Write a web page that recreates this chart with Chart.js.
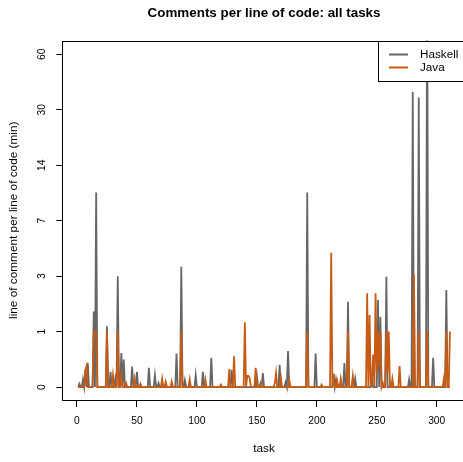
<!DOCTYPE html>
<html><head><meta charset="utf-8">
<script src="https://cdn.jsdelivr.net/npm/chart.js@4/dist/chart.umd.min.js"></script>
<style>html,body{margin:0;padding:0;background:#fff;overflow:hidden;}canvas{display:block;}</style>
</head><body>
<canvas id="c" width="475" height="462" style="width:475px;height:462px"></canvas>
<script>
// ---- data ----
const taskCount = 311;
const yTickValues = [0, 1, 3, 7, 14, 30, 60];
const yTickLabels = ['0', '1', '3', '7', '14', '30', '60'];
const xTickValues = [0, 50, 100, 150, 200, 250, 300];
const seriesNames = ['Haskell', 'Java'];
// [task, comments per line]; every other task is 0
const haskellSpikes = [
  [2,0.04],[5,0.1],[7,0.24],[9,0.35],[14,1.57],[16,10],[25,1.14],[28,0.21],[32,0.11],
  [34,3.0],[37,0.53],[39,0.41],[46,0.29],[50,0.21],[60,0.27],[65,0.16],[68,0.05],
  [83,0.52],[87,3.5],[90,0.09],[99,0.16],[105,0.21],[112,0.44],[129,0.24],[150,0.15],
  [155,0.19],[169,0.32],[174,0.06],[176,0.57],[192,10],[199,0.52],[214,0.18],[216,0.1],
  [223,0.35],[226,1.9],[232,0.11],[246,0.1],[251,1.97],[253,1.41],[258,2.97],[277,0.1],
  [280,37.5],[285,35],[292,150],[297,0.44],[308,2.36]
];
const javaSpikes = [
  [7,0.24],[8,0.3],[14,1],[15,1],[16,1],[25,1],[30,0.16],[34,1],[37,0.15],[41,0.05],
  [48,0.11],[53,0.04],[71,0.11],[74,0.07],[79,0.07],[87,1],[94,0.1],[107,0.1],[120,0.03],
  [127,0.25],[131,0.47],[140,1.25],[142,0.15],[143,0.15],[144,0.12],[149,0.27],[153,0.05],
  [165,0.05],[166,0.19],[170,0.13],[177,0.09],[192,1],[204,0.03],[212,4.35],[214,0.18],
  [217,0.08],[220,0.11],[226,1],[230,0.15],[242,2.23],[244,1.46],[246,0.1],[247,0.5],
  [249,2.23],[250,0.2],[251,1],[252,0.3],[253,1],[255,0.05],[258,1],[259,0.2],[260,1],
  [263,0.11],[269,0.3],[281,3.1],[285,1],[292,1],[306,0.11],[308,1],[311,1]
];

// ---- axis transform: tick values are evenly spaced (log-like scale) ----
function toLevel(v) {
  const L = yTickValues.map(t => Math.log2(t + 1));
  const lv = Math.log2(v + 1);
  let k = 0;
  while (k < L.length - 2 && lv > L[k + 1]) k++;
  return k + (lv - L[k]) / (L[k + 1] - L[k]);
}
function buildSeries(spikes) {
  const m = new Map(spikes.map(p => [p[0], p[1]]));
  const out = [];
  for (let i = 1; i <= taskCount; i++) out.push({ x: i, y: toLevel(m.get(i) || 0) });
  return out;
}

const FONT = "'Liberation Sans', Arial, Helvetica, sans-serif";
const GREY = '#666666', ORANGE = '#C75B14';

const decor = {
  id: 'decor',
  afterDraw(chart) {
    const { ctx, chartArea: a, scales: { y } } = chart;
    ctx.save();
    ctx.strokeStyle = '#000'; ctx.lineWidth = 1;
    const L = Math.round(a.left) - 0.5, T = Math.round(a.top) + 0.5;
    const R = Math.round(a.right) + 0.5, B = Math.round(a.bottom) + 0.5;
    ctx.strokeRect(L, T, R - L, B - T);
    ctx.fillStyle = '#000';
    // y tick labels (rotated as in the reference)
    ctx.font = `10.3px ${FONT}`;
    ctx.textAlign = 'center'; ctx.textBaseline = 'middle';
    yTickLabels.forEach((lab, k) => {
      ctx.save(); ctx.translate(42, y.getPixelForValue(k)); ctx.rotate(-Math.PI / 2);
      ctx.fillText(lab, 0, 0); ctx.restore();
    });
    // titles
    const cx = (a.left + a.right) / 2, cy = (a.top + a.bottom) / 2;
    ctx.font = `bold 13.4px ${FONT}`;
    ctx.fillText('Comments per line of code: all tasks', cx, 13);
    ctx.font = `11.8px ${FONT}`;
    ctx.fillText('task', cx, 449);
    ctx.save(); ctx.translate(14, cy); ctx.rotate(-Math.PI / 2);
    ctx.fillText('line of comment per line of code (min)', 0, 0); ctx.restore();
    // legend
    const lx = 378.5, ly = T, lb = 81.5;
    ctx.fillStyle = '#fff'; ctx.fillRect(lx, ly, R - lx, lb - ly);
    ctx.strokeRect(lx, ly, R - lx, lb - ly);
    const rows = [[seriesNames[0], GREY, 54.5], [seriesNames[1], ORANGE, 67.5]];
    ctx.textAlign = 'left';
    rows.forEach(([name, col, ry]) => {
      ctx.strokeStyle = col; ctx.lineWidth = 2;
      ctx.beginPath(); ctx.moveTo(389, ry); ctx.lineTo(408, ry); ctx.stroke();
      ctx.fillStyle = '#000'; ctx.font = `11.7px ${FONT}`;
      ctx.fillText(name, 420, ry);
    });
    ctx.restore();
  }
};

new Chart(document.getElementById('c'), {
  type: 'line',
  data: {
    datasets: [
      { label: seriesNames[1], data: buildSeries(javaSpikes), borderColor: ORANGE, borderWidth: 1.8, pointRadius: 0, tension: 0, fill: false },
      { label: seriesNames[0], data: buildSeries(haskellSpikes), borderColor: GREY, borderWidth: 1.8, pointRadius: 0, tension: 0, fill: false }
    ]
  },
  options: {
    responsive: false, animation: false, devicePixelRatio: 1,
    layout: { padding: { left: 0, right: 10.2, top: 40.5, bottom: 0 } },
    plugins: { legend: { display: false }, title: { display: false }, tooltip: { enabled: false } },
    scales: {
      x: {
        type: 'linear', min: -11.4, max: 323.4,
        afterFit: s => { s.height = 62; },
        afterBuildTicks: s => { s.ticks = xTickValues.map(v => ({ value: v })); },
        ticks: { color: '#000', font: { size: 10.3, family: FONT }, padding: 8, maxRotation: 0 },
        grid: { display: true, drawOnChartArea: false, drawTicks: true, tickLength: 7, color: '#000', tickColor: '#000' },
        border: { display: false }
      },
      y: {
        type: 'linear', min: -0.234, max: 6.25,
        afterFit: s => { s.width = 63.3; },
        afterBuildTicks: s => { s.ticks = yTickLabels.map((_, k) => ({ value: k })); },
        ticks: { display: false },
        grid: { display: true, drawOnChartArea: false, drawTicks: true, tickLength: 7, color: '#000', tickColor: '#000' },
        border: { display: false }
      }
    }
  },
  plugins: [decor]
});
</script>
</body></html>
